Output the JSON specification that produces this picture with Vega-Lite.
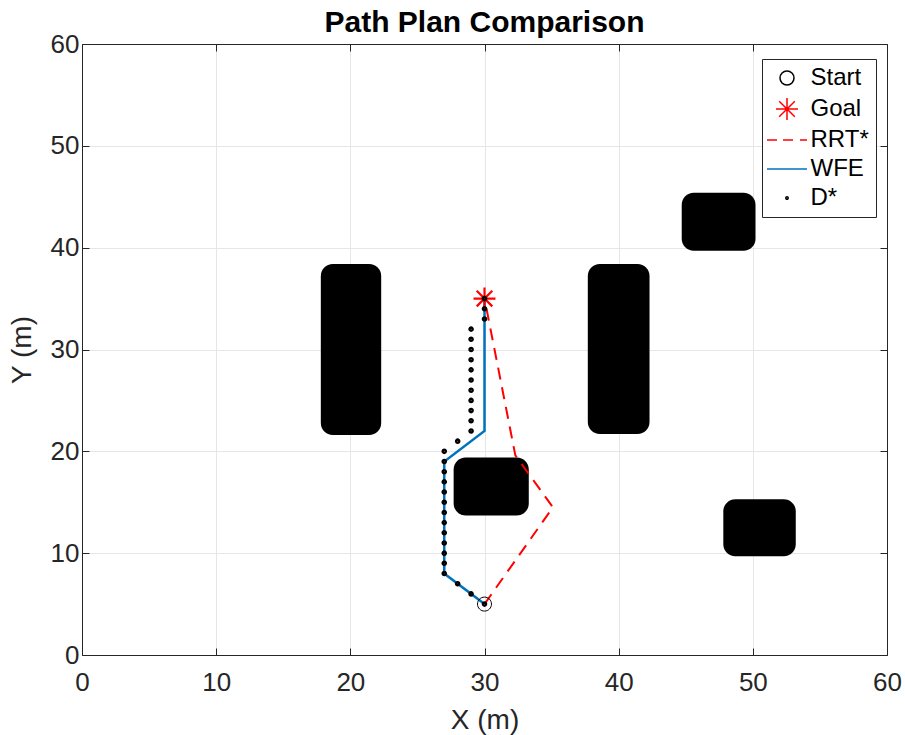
{
  "$schema": "https://vega.github.io/schema/vega-lite/v6.json",
  "width": 805,
  "height": 611,
  "autosize": "none",
  "padding": {"left": 82, "top": 44, "right": 18, "bottom": 80},
  "background": "white",
  "title": {"text": "Path Plan Comparison", "font": "Liberation Sans", "fontSize": 30, "fontWeight": "bold", "color": "black", "offset": -7},
  "datasets": {
    "obstacles": [
      {"x": 17.8, "x2": 22.3, "y": 21.6, "y2": 38.4},
      {"x": 37.7, "x2": 42.3, "y": 21.7, "y2": 38.4},
      {"x": 44.7, "x2": 50.2, "y": 39.7, "y2": 45.4},
      {"x": 47.8, "x2": 53.2, "y": 9.7, "y2": 15.3},
      {"x": 27.7, "x2": 33.3, "y": 13.7, "y2": 19.4}
    ],
    "rrt": [
      {"i": 0, "x": 30, "y": 5},
      {"i": 1, "x": 35.1, "y": 14.5},
      {"i": 2, "x": 32.3, "y": 19.6},
      {"i": 3, "x": 30, "y": 35}
    ],
    "wfe": [
      {"i": 0, "x": 30, "y": 5},
      {"i": 1, "x": 27, "y": 8},
      {"i": 2, "x": 27, "y": 19},
      {"i": 3, "x": 30, "y": 22},
      {"i": 4, "x": 30, "y": 35}
    ],
    "start": [{"series": "Start", "x": 30, "y": 5}],
    "goal": [{"series": "Goal", "x": 30, "y": 35}],
    "dstar": [
      {"series": "D*", "x": 30, "y": 5},
      {"series": "D*", "x": 29, "y": 6},
      {"series": "D*", "x": 28, "y": 7},
      {"series": "D*", "x": 27, "y": 8},
      {"series": "D*", "x": 27, "y": 9},
      {"series": "D*", "x": 27, "y": 10},
      {"series": "D*", "x": 27, "y": 11},
      {"series": "D*", "x": 27, "y": 12},
      {"series": "D*", "x": 27, "y": 13},
      {"series": "D*", "x": 27, "y": 14},
      {"series": "D*", "x": 27, "y": 15},
      {"series": "D*", "x": 27, "y": 16},
      {"series": "D*", "x": 27, "y": 17},
      {"series": "D*", "x": 27, "y": 18},
      {"series": "D*", "x": 27, "y": 19},
      {"series": "D*", "x": 27, "y": 20},
      {"series": "D*", "x": 28, "y": 21},
      {"series": "D*", "x": 29, "y": 22},
      {"series": "D*", "x": 29, "y": 23},
      {"series": "D*", "x": 29, "y": 24},
      {"series": "D*", "x": 29, "y": 25},
      {"series": "D*", "x": 29, "y": 26},
      {"series": "D*", "x": 29, "y": 27},
      {"series": "D*", "x": 29, "y": 28},
      {"series": "D*", "x": 29, "y": 29},
      {"series": "D*", "x": 29, "y": 30},
      {"series": "D*", "x": 29, "y": 31},
      {"series": "D*", "x": 29, "y": 32},
      {"series": "D*", "x": 30, "y": 33},
      {"series": "D*", "x": 30, "y": 34},
      {"series": "D*", "x": 30, "y": 35}
    ]
  },
  "resolve": {"axis": {"x": "independent", "y": "independent"}},
  "layer": [
    {
      "data": {"name": "obstacles"},
      "mark": {"type": "rect", "color": "black", "cornerRadius": 12},
      "encoding": {
        "x": {"field": "x", "type": "quantitative", "scale": {"domain": [0, 60], "nice": false, "zero": false},
          "axis": {"orient": "bottom", "title": "X (m)", "values": [0, 10, 20, 30, 40, 50, 60], "grid": true, "labelPadding": 21, "titlePadding": 11}},
        "x2": {"field": "x2"},
        "y": {"field": "y", "type": "quantitative", "scale": {"domain": [0, 60], "nice": false, "zero": false},
          "axis": {"orient": "left", "title": "Y (m)", "values": [0, 10, 20, 30, 40, 50, 60], "grid": true, "labelPadding": 10, "titlePadding": 14}},
        "y2": {"field": "y2"}
      }
    },
    {
      "data": {"name": "rrt"},
      "mark": {"type": "line", "color": "#ff0000", "strokeWidth": 2, "strokeDash": [12, 8]},
      "encoding": {
        "x": {"field": "x", "type": "quantitative",
          "axis": {"orient": "top", "title": null, "labels": false, "grid": false, "values": [0, 10, 20, 30, 40, 50, 60]}},
        "y": {"field": "y", "type": "quantitative",
          "axis": {"orient": "right", "title": null, "labels": false, "grid": false, "values": [0, 10, 20, 30, 40, 50, 60]}},
        "order": {"field": "i"}
      }
    },
    {
      "data": {"name": "wfe"},
      "mark": {"type": "line", "color": "#0072BD", "strokeWidth": 2.5},
      "encoding": {
        "x": {"field": "x", "type": "quantitative", "axis": null},
        "y": {"field": "y", "type": "quantitative", "axis": null},
        "order": {"field": "i"}
      }
    },
    {
      "data": {"name": "start"},
      "mark": {"type": "point", "filled": false, "size": 400, "strokeWidth": 1, "opacity": 1},
      "encoding": {
        "x": {"field": "x", "type": "quantitative", "axis": null},
        "y": {"field": "y", "type": "quantitative", "axis": null},
        "color": {"field": "series", "type": "nominal", "legend": {"title": null},
          "scale": {"domain": ["Start", "Goal", "RRT*", "WFE", "D*"], "range": ["black", "#ff0000", "#ff0000", "#0072BD", "black"]}},
        "shape": {"field": "series", "type": "nominal", "legend": {"title": null},
          "scale": {"domain": ["Start", "Goal", "RRT*", "WFE", "D*"], "range": [
            "M0.7,0A0.7,0.7,0,1,1,-0.7,0A0.7,0.7,0,1,1,0.7,0Z",
            "M0,-1.1V1.1M-1.1,0H1.1M-0.78,-0.78L0.78,0.78M-0.78,0.78L0.78,-0.78",
            "M-2,0H-1M-0.4,0H0.6M1.3,0H2",
            "M-2,0H2",
            "M0.12,0A0.12,0.12,0,1,1,-0.12,0A0.12,0.12,0,1,1,0.12,0Z"
          ]}}
      }
    },
    {
      "data": {"name": "goal"},
      "mark": {"type": "point", "filled": false, "size": 400, "strokeWidth": 2.2, "opacity": 1},
      "encoding": {
        "x": {"field": "x", "type": "quantitative", "axis": null},
        "y": {"field": "y", "type": "quantitative", "axis": null},
        "color": {"field": "series", "type": "nominal", "legend": {"title": null}},
        "shape": {"field": "series", "type": "nominal", "legend": {"title": null}}
      }
    },
    {
      "data": {"name": "dstar"},
      "mark": {"type": "point", "filled": false, "size": 400, "strokeWidth": 3.2, "opacity": 1},
      "encoding": {
        "x": {"field": "x", "type": "quantitative", "axis": null},
        "y": {"field": "y", "type": "quantitative", "axis": null},
        "color": {"field": "series", "type": "nominal", "legend": {"title": null}},
        "shape": {"field": "series", "type": "nominal", "legend": {"title": null}}
      }
    }
  ],
  "config": {
    "view": {"stroke": null},
    "axis": {
      "domainColor": "#262626",
      "domainWidth": 1,
      "tickColor": "#262626",
      "tickSize": -7,
      "tickWidth": 1,
      "labelFont": "Liberation Sans",
      "labelFontSize": 26,
      "labelColor": "#262626",
      "labelFlush": false,
      "labelOverlap": false,
      "gridColor": "#e6e6e6",
      "gridWidth": 1,
      "titleFont": "Liberation Sans",
      "titleFontSize": 28,
      "titleFontWeight": "normal",
      "titleColor": "#262626"
    },
    "legend": {
      "orient": "none",
      "legendX": 680,
      "legendY": 15,
      "padding": 7,
      "rowPadding": 5,
      "symbolSize": 400,
      "symbolStrokeWidth": 1.5,
      "symbolOffset": 6,
      "labelOffset": 11.5,
      "labelFont": "Liberation Sans",
      "labelFontSize": 24,
      "labelColor": "black",
      "labelLimit": 200,
      "strokeColor": "#262626",
      "fillColor": "white",
      "cornerRadius": 0
    }
  }
}
